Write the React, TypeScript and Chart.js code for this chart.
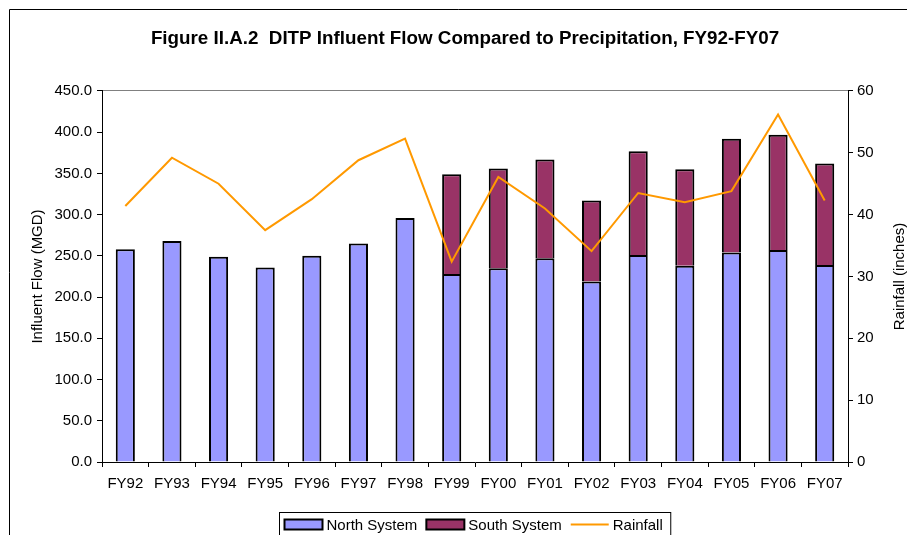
import React, { useEffect, useRef } from "react";
import { Chart, registerables } from "chart.js";

Chart.register(...registerables);

const categories = ["FY92", "FY93", "FY94", "FY95", "FY96", "FY97", "FY98", "FY99", "FY00", "FY01", "FY02", "FY03", "FY04", "FY05", "FY06", "FY07"];
const northSystem = [258, 268, 249, 236, 250, 265, 296, 228, 235, 247, 219, 251, 238, 254, 257, 239];
const southSystem = [null, null, null, null, null, null, null, 121, 121, 120, 98, 126, 117, 138, 140, 123];
const rainfall = [41.4, 49.2, 45.0, 37.5, 42.5, 48.8, 52.3, 32.4, 46.1, 41.0, 34.1, 43.5, 42.0, 43.8, 56.2, 42.3];

const titleText = "Figure II.A.2  DITP Influent Flow Compared to Precipitation, FY92-FY07";
const leftAxisTitle = "Influent Flow (MGD)";
const rightAxisTitle = "Rainfall (inches)";

const FONT = '"Liberation Sans", Arial, Helvetica, sans-serif';

const framePlugin = {
  id: "frame",
  beforeDraw(chart: any) {
    const { ctx, chartArea: ca } = chart;
    ctx.save();
    ctx.fillStyle = "#ffffff";
    ctx.fillRect(0, 0, chart.width, chart.height);
    ctx.strokeStyle = "#000000";
    ctx.lineWidth = 1;
    ctx.beginPath();
    ctx.moveTo(9.5, chart.height + 5);
    ctx.lineTo(9.5, 9.5);
    ctx.lineTo(chart.width + 5, 9.5);
    ctx.stroke();
    ctx.strokeStyle = "#808080";
    ctx.beginPath();
    ctx.moveTo(ca.left, Math.round(ca.top) - 0.5);
    ctx.lineTo(ca.right, Math.round(ca.top) - 0.5);
    ctx.stroke();
    ctx.restore();
  },
};

const decorPlugin = {
  id: "decor",
  afterDraw(chart: any) {
    const { ctx, chartArea: ca } = chart;
    const y1 = chart.scales.y1;
    ctx.save();
    ctx.font = `15px ${FONT}`;
    ctx.fillStyle = "#000";
    ctx.textAlign = "center";
    ctx.textBaseline = "middle";
    ctx.translate(y1.right - 7, (ca.top + ca.bottom) / 2);
    ctx.rotate(-Math.PI / 2);
    ctx.fillText(rightAxisTitle, 0, 0);
    ctx.restore();

    ctx.save();
    ctx.font = `15px ${FONT}`;
    const ds = chart.data.datasets;
    const sw = 38, gapText = 4, gapItem = 9, padL = 5, padR = 8;
    const widths = ds.map((d: any) => sw + gapText + ctx.measureText(d.label).width);
    const total = padL + widths.reduce((a: number, b: number) => a + b, 0) + gapItem * (ds.length - 1) + padR;
    const cx = (ca.left + ca.right) / 2;
    const left = Math.round(cx - total / 2) + 0.5;
    const top = Math.round(ca.bottom + 50) + 0.5;
    ctx.strokeStyle = "#000";
    ctx.lineWidth = 1;
    ctx.fillStyle = "#fff";
    ctx.fillRect(left, top, total, 30);
    ctx.strokeRect(left, top, total, 30);
    let x = left + padL;
    ds.forEach((d: any, i: number) => {
      if (d.type === "line") {
        ctx.strokeStyle = d.borderColor;
        ctx.lineWidth = 2;
        ctx.beginPath();
        ctx.moveTo(x, top + 12);
        ctx.lineTo(x + sw, top + 12);
        ctx.stroke();
      } else {
        ctx.fillStyle = d.backgroundColor;
        ctx.fillRect(x, top + 7, sw, 10);
        ctx.strokeStyle = "#000";
        ctx.lineWidth = 2;
        ctx.strokeRect(x, top + 7, sw, 10);
      }
      ctx.fillStyle = "#000";
      ctx.textAlign = "left";
      ctx.textBaseline = "middle";
      ctx.fillText(d.label, x + sw + gapText, top + 13.5);
      x += widths[i] + gapItem;
    });
    ctx.restore();
  },
};

export default function App() {
  const ref = useRef<HTMLCanvasElement | null>(null);

  useEffect(() => {
    const canvas = ref.current;
    if (!canvas) return;
    Chart.defaults.color = "#000";
    const chart = new Chart(canvas, {
      type: "bar",
      data: {
        labels: categories,
        datasets: [
          {
            type: "bar",
            label: "North System",
            data: northSystem,
            backgroundColor: "#9999FF",
            borderColor: "#000000",
            borderWidth: 2,
            yAxisID: "y",
            stack: "flow",
            order: 1,
            barPercentage: 0.41,
            categoryPercentage: 1,
          },
          {
            type: "bar",
            label: "South System",
            data: southSystem,
            backgroundColor: "#993366",
            borderColor: "#000000",
            borderWidth: 2,
            yAxisID: "y",
            stack: "flow",
            order: 2,
            barPercentage: 0.41,
            categoryPercentage: 1,
          },
          {
            type: "line",
            label: "Rainfall",
            data: rainfall,
            borderColor: "#FF9900",
            backgroundColor: "#FF9900",
            borderWidth: 2,
            pointRadius: 0,
            tension: 0,
            fill: false,
            yAxisID: "y1",
            order: 0,
          },
        ] as any,
      },
      options: {
        animation: false,
        responsive: false,
        maintainAspectRatio: false,
        devicePixelRatio: 1,
        layout: { padding: { left: 23, right: 0, top: 10, bottom: 0 } },
        plugins: {
          legend: { display: false },
          tooltip: { enabled: false },
          title: {
            display: true,
            text: titleText,
            color: "#000",
            font: { family: FONT, size: 18.8, weight: "bold" },
            padding: { top: 17.7, bottom: 40.7 },
          },
        },
        scales: {
          x: {
            stacked: true,
            offset: true,
            grid: { display: true, drawOnChartArea: false, drawTicks: true, tickLength: 5, color: "#000", offset: true },
            border: { display: true, color: "#000", width: 1 },
            ticks: { font: { family: FONT, size: 15 }, color: "#000", padding: 8, maxRotation: 0, autoSkip: false },
            afterFit: (s: any) => { s.height = 73; },
          },
          y: {
            position: "left",
            stacked: true,
            min: 0,
            max: 450,
            ticks: { stepSize: 50, font: { family: FONT, size: 15 }, color: "#000", padding: 5, callback: (v: any) => Number(v).toFixed(1) },
            grid: { display: true, drawOnChartArea: false, drawTicks: true, tickLength: 5, color: "#000" },
            border: { display: true, color: "#000", width: 1 },
            title: { display: true, text: leftAxisTitle, color: "#000", font: { family: FONT, size: 15 }, padding: { top: 6, bottom: 0 } },
            afterFit: (s: any) => { s.width = 79; },
          },
          y1: {
            position: "right",
            min: 0,
            max: 60,
            ticks: { stepSize: 10, font: { family: FONT, size: 15 }, color: "#000", padding: 4 },
            grid: { display: true, drawOnChartArea: false, drawTicks: true, tickLength: 5, color: "#000" },
            border: { display: true, color: "#000", width: 1 },
            afterFit: (s: any) => { s.width = 59; },
          },
        },
      } as any,
      plugins: [framePlugin, decorPlugin],
    });
    return () => chart.destroy();
  }, []);

  return (
    <div style={{ position: "fixed", left: 0, top: 0, width: 907, height: 535, overflow: "hidden", background: "#fff" }}>
      <canvas ref={ref} width={907} height={535} style={{ display: "block", width: 907, height: 535 }} />
    </div>
  );
}
